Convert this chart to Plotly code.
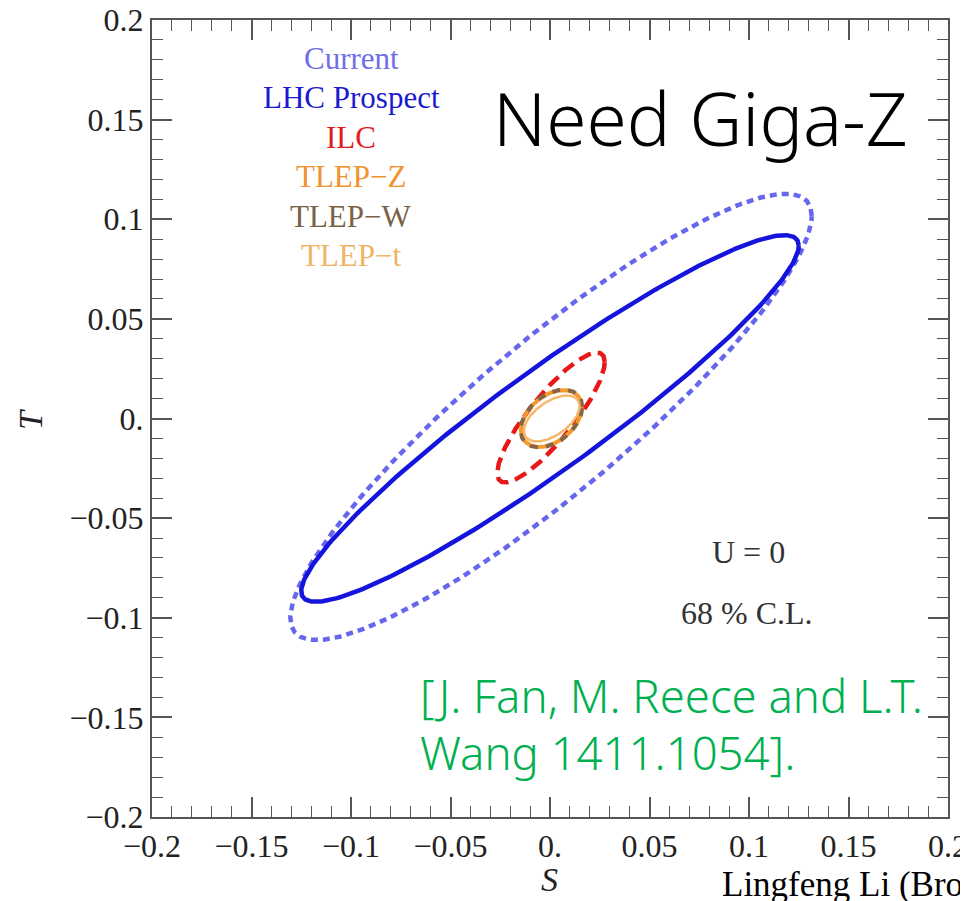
import numpy as np
import plotly.graph_objects as go

# ---- data: 68% C.L. ellipses ----
names = ["Current", "LHC Prospect", "ILC", "TLEP-Z", "TLEP-W", "TLEP-t"]
center_S = [0.0005, 0.0, 0.0005, 0.0007, 0.0007, 0.0009]
center_T = [0.0008, 0.0, 0.0005, 0.0, 0.0, 0.0]
sigma_S = [0.131, 0.125, 0.027, 0.0153, 0.0155, 0.0140]
sigma_T = [0.112, 0.092, 0.0326, 0.0143, 0.0145, 0.0115]
rho = [0.90, 0.942, 0.855, 0.40, 0.40, 0.54]

colors = ["#6767ee", "#1414dc", "#e81818", "#f29a2e", "#866745", "#f5b868"]
label_colors = ["#6e6ee6", "#1a1ad2", "#e01c1c", "#ef9430", "#7a6248", "#f0b468"]
widths = [4.5, 4.5, 4.5, 4, 4, 2.5]
dashes = ["7px,5px", "solid", "13px,7px", "solid", "8px,8px", "solid"]

tick_vals = [-0.2, -0.15, -0.1, -0.05, 0.0, 0.05, 0.1, 0.15, 0.2]
tick_text = ["\u22120.2", "\u22120.15", "\u22120.1", "\u22120.05", "0.", "0.05", "0.1", "0.15", "0.2"]

serif = "Liberation Serif, Times New Roman, serif"

fig = go.Figure()
t = np.linspace(0, 2 * np.pi, 400)
for i, n in enumerate(names):
    s = center_S[i] + sigma_S[i] * np.cos(t)
    tt = center_T[i] + sigma_T[i] * (rho[i] * np.cos(t) + np.sqrt(1 - rho[i] ** 2) * np.sin(t))
    fig.add_trace(go.Scatter(x=s, y=tt, mode="lines", name=n, showlegend=False,
                             line=dict(color=colors[i], width=widths[i], dash=dashes[i]),
                             hoverinfo="skip"))

axis_common = dict(
    range=[-0.2, 0.2], tickvals=tick_vals, ticktext=tick_text,
    ticks="inside", ticklen=20, tickwidth=1.5, tickcolor="#555",
    showline=True, linecolor="#555", linewidth=2, mirror="ticks",
    showgrid=False, zeroline=False, ticklabeloverflow="allow",
    tickfont=dict(family=serif, size=32, color="#222"),
    minor=dict(ticks="inside", ticklen=11, tickwidth=1.3, tickcolor="#555", dtick=0.01, showgrid=False),
)
fig.update_xaxes(**axis_common)
fig.update_yaxes(**axis_common)

# page has an 8px body margin: the figure is drawn from (8, 8)
OFF = 8
W, H = 968 - OFF, 901 - OFF
L, R, T, B = 152 - OFF, 20, 20 - OFF, 84
pw, ph = W - L - R, H - T - B

fig.update_layout(
    width=W, height=H,
    margin=dict(l=L, r=R, t=T, b=B, autoexpand=False),
    plot_bgcolor="white", paper_bgcolor="white",
)


def px(x, y):
    # x, y in page pixels of the reference
    return (x - OFF - L) / pw, 1 - (y - OFF - T) / ph


annotations = []


def add_text(text, x, y, size, color, family, xanchor="center", yanchor="middle", angle=0, weight=None):
    xx, yy = px(x, y)
    f = dict(family=family, size=size, color=color)
    if weight is not None:
        f["weight"] = weight
    annotations.append(dict(text=text, x=xx, y=yy, xref="paper", yref="paper", showarrow=False,
                            xanchor=xanchor, yanchor=yanchor, textangle=angle, font=f))


label_y = [58, 97, 137, 177, 217, 256]
for i, n in enumerate(names):
    add_text(n.replace("-", "\u2212"), 351, label_y[i], 31, label_colors[i], serif)

add_text("U = 0", 748, 552, 32, "#333", serif)
add_text("68 % C.L.", 747, 613, 32, "#333", serif)
add_text("Need Giga-Z", 700, 117, 73, "#000", "Noto Sans, sans-serif", weight=300)
add_text("[J. Fan, M. Reece and L.T.", 418, 695, 45.5, "#00b050", "Noto Sans, sans-serif", xanchor="left", weight=300)
add_text("Wang 1411.1054].", 418, 752, 45.5, "#00b050", "Noto Sans, sans-serif", xanchor="left", weight=300)
add_text("<i>S</i>", 549, 879, 34, "#222", serif)
add_text("<i>T</i>", 30, 420, 34, "#222", serif, angle=-90)
add_text("Lingfeng Li (Brown)", 720, 884, 35, "#000", serif, xanchor="left")

fig.update_layout(annotations=annotations)
fig.write_html("out.html")
